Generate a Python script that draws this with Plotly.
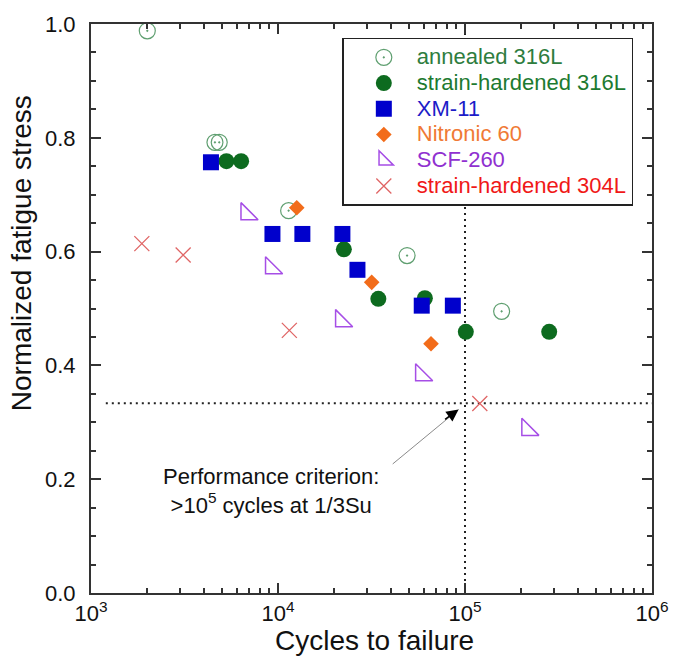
import plotly.graph_objects as go

# ---- data ----
annealed_316L_cycles = [2000, 4600, 4850, 11400, 49000, 157000]
annealed_316L_stress = [0.988, 0.792, 0.792, 0.672, 0.593, 0.495]

sh_316L_cycles = [5300, 6350, 22500, 34400, 61000, 101000, 282000]
sh_316L_stress = [0.759, 0.759, 0.604, 0.517, 0.518, 0.459, 0.459]

xm11_cycles = [4380, 9340, 13500, 22100, 26600, 58700, 86100]
xm11_stress = [0.757, 0.631, 0.631, 0.631, 0.568, 0.505, 0.505]

nitronic60_cycles = [12600, 31700, 65800]
nitronic60_stress = [0.677, 0.546, 0.438]

scf260_cycles = [6800, 9200, 21800, 58400, 216000]
scf260_stress = [0.666, 0.571, 0.478, 0.383, 0.287]

sh_304L_cycles = [1870, 3110, 11500, 120000]
sh_304L_stress = [0.614, 0.594, 0.4615, 0.333]

criterion_cycles = 1e5
criterion_stress = 1 / 3
x_min, x_max = 1e3, 1e6
y_min, y_max = 0.0, 1.0
hline_start = 1.2e3

x_tickvals = [1e3, 1e4, 1e5, 1e6]
x_ticktext = ["10<sup>3</sup>", "10<sup>4</sup>", "10<sup>5</sup>", "10<sup>6</sup>"]
y_tickvals = [0.0, 0.2, 0.4, 0.6, 0.8, 1.0]
y_ticktext = ["0.0", "0.2", "0.4", "0.6", "0.8", "1.0"]

FONT = "Liberation Sans, Arial, Helvetica, sans-serif"
AX = "#333333"
TXT = "#111111"


def lname(text, color):
    return f"<span style='font-size:22px;color:{color}'>{text}</span>"


fig = go.Figure()

# criterion lines
dotted = dict(color="#222222", width=2, dash="2px,4px")
fig.add_trace(go.Scatter(x=[hline_start, x_max], y=[criterion_stress, criterion_stress],
                         mode="lines", line=dotted, showlegend=False, hoverinfo="skip"))
fig.add_trace(go.Scatter(x=[criterion_cycles, criterion_cycles], y=[y_min, y_max],
                         mode="lines", line=dotted, showlegend=False, hoverinfo="skip"))

fig.add_trace(go.Scatter(
    x=annealed_316L_cycles, y=annealed_316L_stress, mode="markers",
    name=lname("annealed 316L", "#2e7d3e"),
    marker=dict(symbol="circle-open-dot", size=16, color="#5f9f70", line=dict(width=1.2, color="#5f9f70")),
    cliponaxis=False))
fig.add_trace(go.Scatter(
    x=sh_316L_cycles, y=sh_316L_stress, mode="markers",
    name=lname("strain-hardened 316L", "#1d7a30"),
    marker=dict(symbol="circle", size=16, color="#0d6b1f", line=dict(width=0)),
    cliponaxis=False))
fig.add_trace(go.Scatter(
    x=xm11_cycles, y=xm11_stress, mode="markers",
    name=lname("XM-11", "#1c1cc8"),
    marker=dict(symbol="square", size=16, color="#0000cc", line=dict(width=0)),
    cliponaxis=False))
fig.add_trace(go.Scatter(
    x=nitronic60_cycles, y=nitronic60_stress, mode="markers",
    name=lname("Nitronic 60", "#f07a35"),
    marker=dict(symbol="diamond", size=12, color="#f26c1a", line=dict(width=0)),
    cliponaxis=False))
fig.add_trace(go.Scatter(
    x=scf260_cycles, y=scf260_stress, mode="markers",
    name=lname("SCF-260", "#9030d0"),
    marker=dict(symbol="triangle-sw-open", size=19, color="#a64ee6", line=dict(width=1.5, color="#a64ee6")),
    cliponaxis=False))
fig.add_trace(go.Scatter(
    x=sh_304L_cycles, y=sh_304L_stress, mode="markers",
    name=lname("strain-hardened 304L", "#f01818"),
    marker=dict(symbol="x-thin-open", size=15, color="#e06666", line=dict(width=1.3, color="#e06666")),
    cliponaxis=False))

# annotation text + arrow
fig.add_annotation(xref="paper", yref="paper", x=0.3217, y=0.18, xanchor="center", yanchor="middle",
                   showarrow=False,
                   text="Performance criterion:<br>>10<sup>5</sup> cycles at 1/3Su",
                   font=dict(family=FONT, size=22, color=TXT), align="center")
fig.add_shape(type="line", xref="paper", yref="paper", x0=0.5378, y0=0.2268, x1=0.6552, y1=0.3224,
              line=dict(color="#8a8a8a", width=1))
fig.add_annotation(xref="paper", yref="paper", x=0.6552, y=0.3224, text="",
                   showarrow=True, ax=-15, ay=11, arrowhead=2, arrowsize=1.6, arrowwidth=1.5,
                   arrowcolor="#000000")

# axis titles
fig.add_annotation(xref="paper", yref="paper", x=-0.125, y=0.597, xanchor="center", yanchor="middle",
                   textangle=-90, showarrow=False, text="Normalized fatigue stress",
                   font=dict(family=FONT, size=28, color=TXT))
fig.add_annotation(xref="paper", yref="paper", x=0.505, y=-0.083, xanchor="center", yanchor="middle",
                   showarrow=False, text="Cycles to failure",
                   font=dict(family=FONT, size=28, color=TXT))

fig.update_layout(
    width=681, height=660,
    margin=dict(l=91, r=18, t=21, b=67),
    paper_bgcolor="white", plot_bgcolor="white",
    font=dict(family=FONT, color=TXT),
    legend=dict(x=0.448, y=0.9755, xanchor="left", yanchor="top",
                bgcolor="white", bordercolor="#222222", borderwidth=1.5,
                font=dict(family=FONT, size=17.5), itemwidth=56, indentation=7),
)
fig.update_xaxes(
    type="log", range=[3, 6], tickmode="array", tickvals=x_tickvals, ticktext=x_ticktext,
    ticks="inside", ticklen=10, tickwidth=1.5, tickcolor=AX,
    showline=True, linecolor=AX, linewidth=2, mirror="ticks", showgrid=False, zeroline=False,
    minor=dict(ticks="inside", ticklen=5, tickwidth=1.5, tickcolor=AX, dtick="D1", showgrid=False),
    tickfont=dict(family=FONT, size=22, color=TXT),
)
fig.update_yaxes(
    range=[0, 1], tickmode="array", tickvals=y_tickvals, ticktext=y_ticktext,
    ticks="inside", ticklen=10, tickwidth=1.5, tickcolor=AX,
    showline=True, linecolor=AX, linewidth=2, mirror="ticks", showgrid=False, zeroline=False,
    minor=dict(ticks="inside", ticklen=5, tickwidth=1.5, tickcolor=AX, dtick=0.05, showgrid=False),
    tickfont=dict(family=FONT, size=22, color=TXT), ticklabelstandoff=9,
)

fig.write_html("out.html")
